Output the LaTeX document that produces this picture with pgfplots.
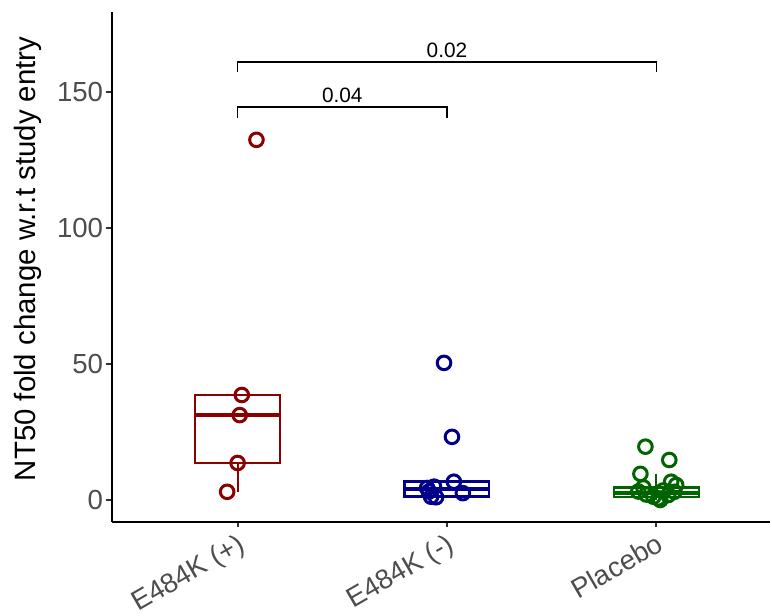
\documentclass[border=0pt]{standalone}
\usepackage{pgfplots}
\pgfplotsset{compat=1.18}
\usepgfplotslibrary{statistics}
\usepackage{fontspec}
\setmainfont{Liberation Sans}
\definecolor{cred}{HTML}{8B0000}
\definecolor{cblue}{HTML}{00008B}
\definecolor{cgreen}{HTML}{006400}
\definecolor{ticktxt}{HTML}{4D4D4D}
\definecolor{tickmk}{HTML}{333333}
\begin{document}
\begin{tikzpicture}
\begin{axis}[
  name=ax,
  scale only axis,
  width=329pt, height=255pt,
  xmin=0.4, xmax=3.543,
  ymin=-8.1, ymax=179.4,
  axis x line*=bottom, axis y line*=left,
  axis line style={black, line width=1pt, -},
  xtick={1,2,3},
  xticklabels={E484K (+), E484K (-), Placebo},
  ytick={0,50,100,150},
  tick align=outside,
  major tick length=2.75pt,
  tick style={color=tickmk, line width=0.9pt},
  /pgf/number format/assume math mode=true,
  tick label style={font=\fontsize{13.8}{16}\selectfont, text=ticktxt},
  yticklabel style={inner sep=1.5pt},
  xticklabel style={rotate=30, anchor=north east, inner sep=1.5pt},
  ylabel={NT50 fold change w.r.t study entry},
  ylabel style={at={(axis description cs:-0.128,0.516)}, anchor=center, font=\fontsize{14.7}{17}\selectfont},
  clip=false,
  boxplot/draw direction=y,
  boxplot/box extend=0.405,
  boxplot/whisker extend=0,
  boxplot/every median/.style={line width=2pt},
  boxplot/every box/.style={line width=1.1pt},
  boxplot/every whisker/.style={line width=1.1pt},
]
% boxes
\addplot[cred, boxplot prepared={median=31.4, upper quartile=38.6, lower quartile=13.6, upper whisker=38.6, lower whisker=3.0, draw position=1}] coordinates {};
\addplot[cblue, boxplot prepared={median=4.0, upper quartile=6.8, lower quartile=1.3, upper whisker=6.8, lower whisker=1.0, draw position=2}] coordinates {};
\addplot[cgreen, boxplot prepared={median=2.6, upper quartile=4.6, lower quartile=1.1, upper whisker=9.6, lower whisker=0.0, draw position=3}] coordinates {};
% jittered points
\addplot[only marks, mark=o, mark size=3.4pt, mark options={cred, line width=1.5pt}] coordinates {
 (1.09,132.4) (1.02,38.6) (1.01,31.2) (1.00,13.6) (0.95,3.0)};
\addplot[only marks, mark=o, mark size=3.4pt, mark options={cblue, line width=1.5pt}] coordinates {
 (1.986,50.4) (2.024,23.2) (1.938,4.9) (1.914,3.1) (1.924,1.2) (1.948,1.0) (2.033,6.7) (2.076,2.5) (1.905,4.4)};
\addplot[only marks, mark=o, mark size=3.4pt, mark options={cgreen, line width=1.5pt}] coordinates {
 (2.948,19.6) (3.062,14.7) (2.924,9.6) (3.071,6.7) (3.095,5.5) (2.914,3.1) (2.986,1.2) (3.019,0.0) (3.057,1.8) (2.952,2.0) (3.033,3.5) (3.086,3.0) (2.938,4.6) (3.010,0.6)};
% significance brackets
\addplot[black, line width=0.65pt, mark=none] coordinates {(1,157.4) (1,161.0) (3,161.0) (3,157.4)};
\addplot[black, line width=0.65pt, mark=none] coordinates {(1,140.4) (1,144.5) (2,144.5) (2,140.4)};
\node[above, inner sep=2pt, font=\fontsize{10.4}{12}\selectfont] at (axis cs:2,161.0) {0.02};
\node[above, inner sep=2pt, font=\fontsize{10.4}{12}\selectfont] at (axis cs:1.5,144.5) {0.04};
\end{axis}
\pgfresetboundingbox
\path[use as bounding box] ([xshift=-56pt,yshift=-47pt]ax.south west) rectangle ([xshift=1pt,yshift=6pt]ax.north east);
\end{tikzpicture}
\end{document}
